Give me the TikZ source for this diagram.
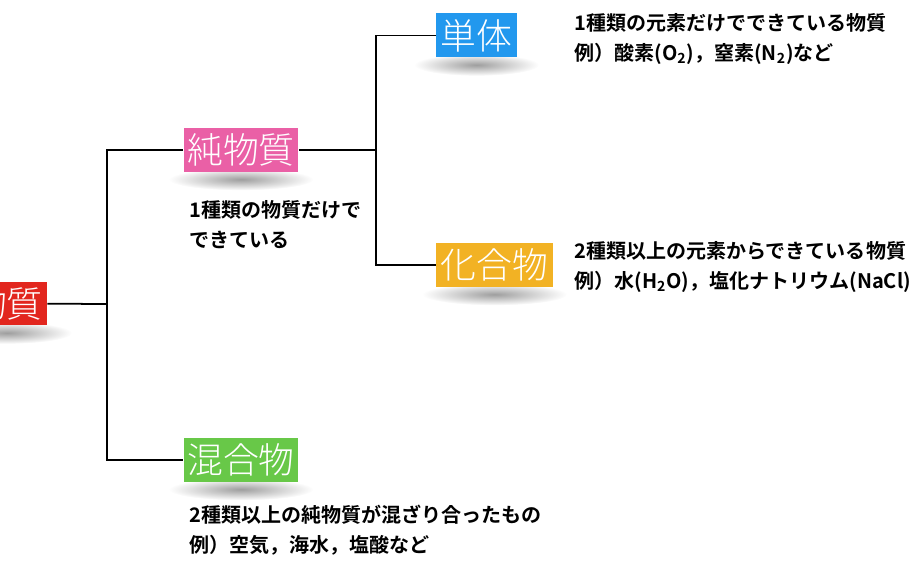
\documentclass[tikz,border=0pt]{standalone}
\usepackage{fontspec}
\setmainfont{Noto Sans CJK JP}
\newfontfamily\boxfont{Noto Sans CJK JP Light}
\newfontfamily\descfont{Noto Sans CJK JP Bold}
\usetikzlibrary{calc,backgrounds}
\definecolor{SubClr}{RGB}{226,38,30}
\definecolor{PureClr}{RGB}{234,96,166}
\definecolor{MixClr}{RGB}{104,200,72}
\definecolor{ElemClr}{RGB}{34,152,238}
\definecolor{CompClr}{RGB}{242,178,36}

\begin{document}
\begin{tikzpicture}[x=0.02cm,y=-0.02cm,
  box/.style={text=white,font=\boxfont\fontsize{20.4}{20.4}\selectfont,minimum height=0.88cm,minimum width=2.3cm,inner sep=0pt},
  desc/.style={anchor=north west,inner sep=0pt,align=left,font=\descfont\fontsize{11.4}{17}\selectfont},
  link/.style={line width=1pt}]
\useasboundingbox (0,0) rectangle (918,567);

\node[box,fill=SubClr,minimum width=1.6cm] (Sub) at (7,303.5) {物質};
\node[box,fill=PureClr] (Pure) at (241,150) {純物質};
\node[box,fill=MixClr] (Mix) at (241,460) {混合物};
\node[box,fill=ElemClr,minimum width=1.62cm] (Elem) at (476.5,35.5) {単体};
\node[box,fill=CompClr,minimum width=2.34cm] (Comp) at (494.5,265) {化合物};

\begin{pgfonlayer}{background}
\foreach \n/\r in {Sub/1.3cm,Pure/1.45cm,Mix/1.45cm,Elem/1.25cm,Comp/1.45cm}
  \shade[inner color=black!38,outer color=white] ($(\n.south)+(0,7)$) ellipse [x radius=\r,y radius=0.22cm];
\end{pgfonlayer}

\coordinate (J1) at (107,304);
\coordinate (J2) at (376,150);

\draw[link] (Sub) -- (J1);
\draw[link] (Pure.west) -| (J1) |- (Mix.west);
\draw[link] (Pure) -- (J2);
\draw[link] (Elem.west) -| (J2) |- (Comp.west);

\node[desc] (PureTxt) at (189,200) {1種類の物質だけで\\できている};
\node[desc] (MixTxt) at (189,505) {2種類以上の純物質が混ざり合ったもの\\例）空気，海水，塩酸など};
\node[desc] (ElemTxt) at (574,13) {1種類の元素だけでできている物質\\例）酸素(O\textsubscript{2})，窒素(N\textsubscript{2})など};
\node[desc] (CompTxt) at (574,241) {2種類以上の元素からできている物質\\例）水(H\textsubscript{2}O)，塩化ナトリウム(NaCl)};

\end{tikzpicture}
\end{document}
